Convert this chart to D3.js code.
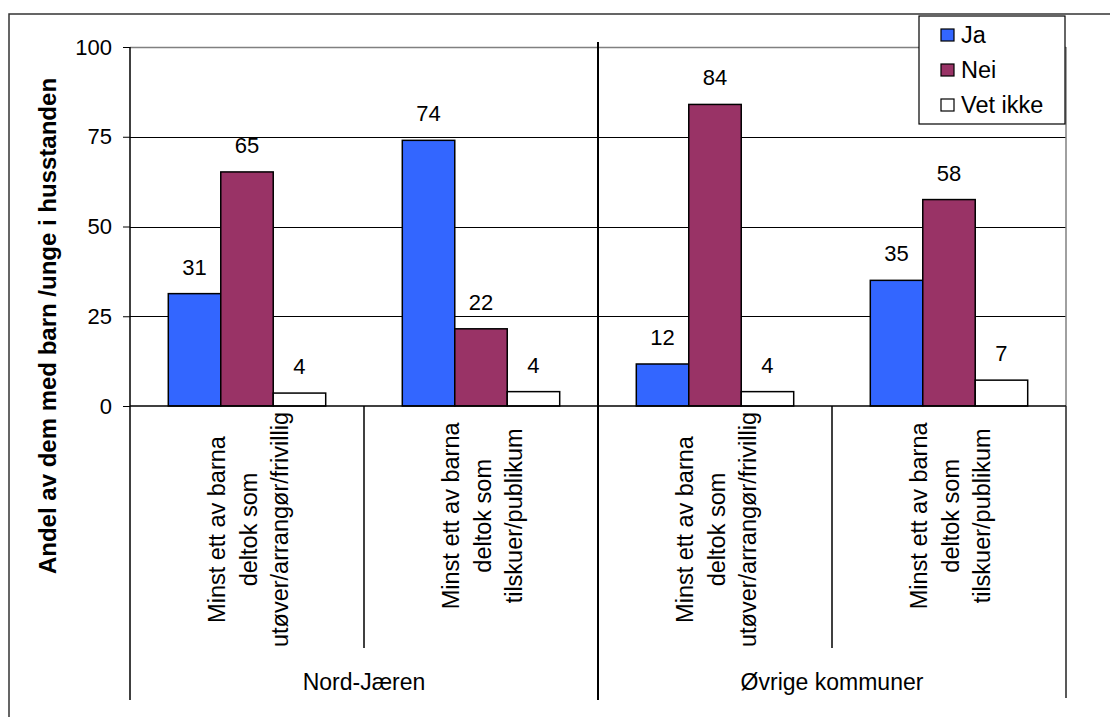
<!DOCTYPE html>
<html>
<head>
<meta charset="utf-8">
<script src="https://cdn.jsdelivr.net/npm/d3@7"></script>
<style>
  html, body { margin: 0; padding: 0; background: #fff; }
  svg { display: block; font-family: Arial, "Liberation Sans", sans-serif; }
</style>
</head>
<body>
<svg id="chart" width="1110" height="717"></svg>
<script>
// ---- data ----
const groups = ["Nord-Jæren", "Øvrige kommuner"];
const categoryLines = [
  ["Minst ett av barna", "deltok som", "utøver/arrangør/frivillig"],
  ["Minst ett av barna", "deltok som", "tilskuer/publikum"],
  ["Minst ett av barna", "deltok som", "utøver/arrangør/frivillig"],
  ["Minst ett av barna", "deltok som", "tilskuer/publikum"]
];
const categoryGroup = [0, 0, 1, 1];
const seriesNames = ["Ja", "Nei", "Vet ikke"];
const jaValues = [31.3, 74, 11.7, 35];
const neiValues = [65.2, 21.5, 84, 57.5];
const vetIkkeValues = [3.6, 4, 4, 7.2];
const yTicks = [0, 25, 50, 75, 100];
const yTitle = "Andel av dem med barn /unge i husstanden";

const seriesValues = [jaValues, neiValues, vetIkkeValues];
const colors = ["#3366FF", "#993366", "#FFFFFF"];

(function () {
const svg = d3.select("#chart");

// outer frame
svg.append("rect").attr("x", 9).attr("y", 14).attr("width", 1120).attr("height", 720)
  .attr("fill", "none").attr("stroke", "#333").attr("stroke-width", 1.5);

const pLeft = 130, pRight = 1066, pTop = 47, zeroY = 406, pBottom = 700;

const y = d3.scaleLinear().domain([0, 100]).range([zeroY, pTop]);
const cats = d3.range(categoryLines.length);
const x = d3.scaleBand().domain(cats).range([pLeft, pRight]).padding(0);
const xs = d3.scaleBand().domain(d3.range(seriesNames.length))
  .range([0, x.bandwidth()]).paddingInner(0).paddingOuter(0.73);

// gridlines
svg.append("g").selectAll("line").data(yTicks.filter(t => t > 0 && t < 100)).join("line")
  .attr("x1", pLeft).attr("x2", pRight)
  .attr("y1", d => Math.round(y(d)) + 0.5).attr("y2", d => Math.round(y(d)) + 0.5)
  .attr("stroke", "#000").attr("stroke-width", 1);
// plot border (top & right) gray
svg.append("line").attr("x1", pLeft).attr("x2", pRight).attr("y1", y(100) + 0.5).attr("y2", y(100) + 0.5)
  .attr("stroke", "#808080").attr("stroke-width", 1.5);
svg.append("line").attr("x1", pRight).attr("x2", pRight).attr("y1", y(100)).attr("y2", zeroY)
  .attr("stroke", "#808080").attr("stroke-width", 1.5);

// bars
const barData = [];
seriesValues.forEach((vals, s) => vals.forEach((v, c) => barData.push({ s, c, v })));
svg.append("g").selectAll("rect").data(barData).join("rect")
  .attr("x", d => x(d.c) + xs(d.s))
  .attr("y", d => y(d.v))
  .attr("width", xs.bandwidth())
  .attr("height", d => zeroY - y(d.v))
  .attr("fill", d => colors[d.s])
  .attr("stroke", "#000").attr("stroke-width", 1.5);

// data labels
svg.append("g").selectAll("text").data(barData).join("text")
  .attr("x", d => x(d.c) + xs(d.s) + xs.bandwidth() / 2)
  .attr("y", d => y(d.v) - 19)
  .attr("text-anchor", "middle")
  .attr("font-size", 22)
  .attr("fill", "#000")
  .text(d => d3.format(".0f")(d.v));

// y axis
const yAxis = svg.append("g").attr("transform", `translate(${pLeft},0)`)
  .call(d3.axisLeft(y).tickValues(yTicks).tickSize(7).tickPadding(11).tickFormat(d3.format("d")));
yAxis.select(".domain").remove();
yAxis.selectAll(".tick line").attr("stroke", "#000").attr("stroke-width", 1);
yAxis.selectAll(".tick text").attr("font-size", 22).attr("font-family", "Arial, 'Liberation Sans', sans-serif").attr("fill", "#000");
svg.append("line").attr("x1", pLeft).attr("x2", pLeft).attr("y1", pTop).attr("y2", pBottom)
  .attr("stroke", "#000").attr("stroke-width", 1.5);

// x axis line at zero
svg.append("line").attr("x1", pLeft).attr("x2", pRight).attr("y1", zeroY).attr("y2", zeroY)
  .attr("stroke", "#000").attr("stroke-width", 1.5);

// category dividers
cats.forEach(c => {
  if (c === 0) return;
  const xx = x(c);
  const isGroupBoundary = categoryGroup[c] !== categoryGroup[c - 1];
  svg.append("line").attr("x1", xx).attr("x2", xx)
    .attr("y1", isGroupBoundary ? pTop - 5 : zeroY)
    .attr("y2", isGroupBoundary ? pBottom : 648)
    .attr("stroke", "#000").attr("stroke-width", isGroupBoundary ? 2 : 1.5);
});
svg.append("line").attr("x1", pRight).attr("x2", pRight).attr("y1", zeroY).attr("y2", pBottom - 2)
  .attr("stroke", "#222").attr("stroke-width", 1.5);

// category labels (rotated)
cats.forEach(c => {
  const cx = x(c) + x.bandwidth() / 2;
  const lines = categoryLines[c];
  const g = svg.append("g");
  const texts = lines.map((ln, i) => g.append("text")
    .attr("font-size", 23.5).attr("fill", "#000")
    .attr("text-anchor", "middle").attr("dominant-baseline", "central")
    .text(ln));
  const maxLen = d3.max(texts, t => t.node().getComputedTextLength());
  const cy = 463 + 0.283 * maxLen;
  texts.forEach((t, i) => {
    const lx = cx + (i - 1) * 31.5 + 1.5;
    t.attr("transform", `translate(${lx},${cy}) rotate(-90)`);
  });
});

// group labels
groups.forEach((gname, gi) => {
  const idx = cats.filter(c => categoryGroup[c] === gi);
  const x0 = x(idx[0]), x1 = x(idx[idx.length - 1]) + x.bandwidth();
  svg.append("text").attr("x", (x0 + x1) / 2).attr("y", 690)
    .attr("text-anchor", "middle").attr("font-size", 23).attr("fill", "#000")
    .text(gname);
});

// y title
svg.append("text")
  .attr("transform", `translate(47,326) rotate(-90)`)
  .attr("text-anchor", "middle").attr("dominant-baseline", "central")
  .attr("font-size", 24).attr("font-weight", "bold").attr("fill", "#000")
  .text(yTitle);

// legend
const lg = svg.append("g");
lg.append("rect").attr("x", 919).attr("y", 16).attr("width", 146).attr("height", 108)
  .attr("fill", "#fff").attr("stroke", "#000").attr("stroke-width", 1.2);
seriesNames.forEach((name, i) => {
  const cy = 35 + i * 35;
  lg.append("rect").attr("x", 941).attr("y", cy - 6).attr("width", 13).attr("height", 12)
    .attr("fill", colors[i]).attr("stroke", "#000").attr("stroke-width", 1.2);
  lg.append("text").attr("x", 961).attr("y", cy).attr("dominant-baseline", "central")
    .attr("font-size", 23.5).attr("fill", "#000").text(name);
});
})();
</script>
</body>
</html>
